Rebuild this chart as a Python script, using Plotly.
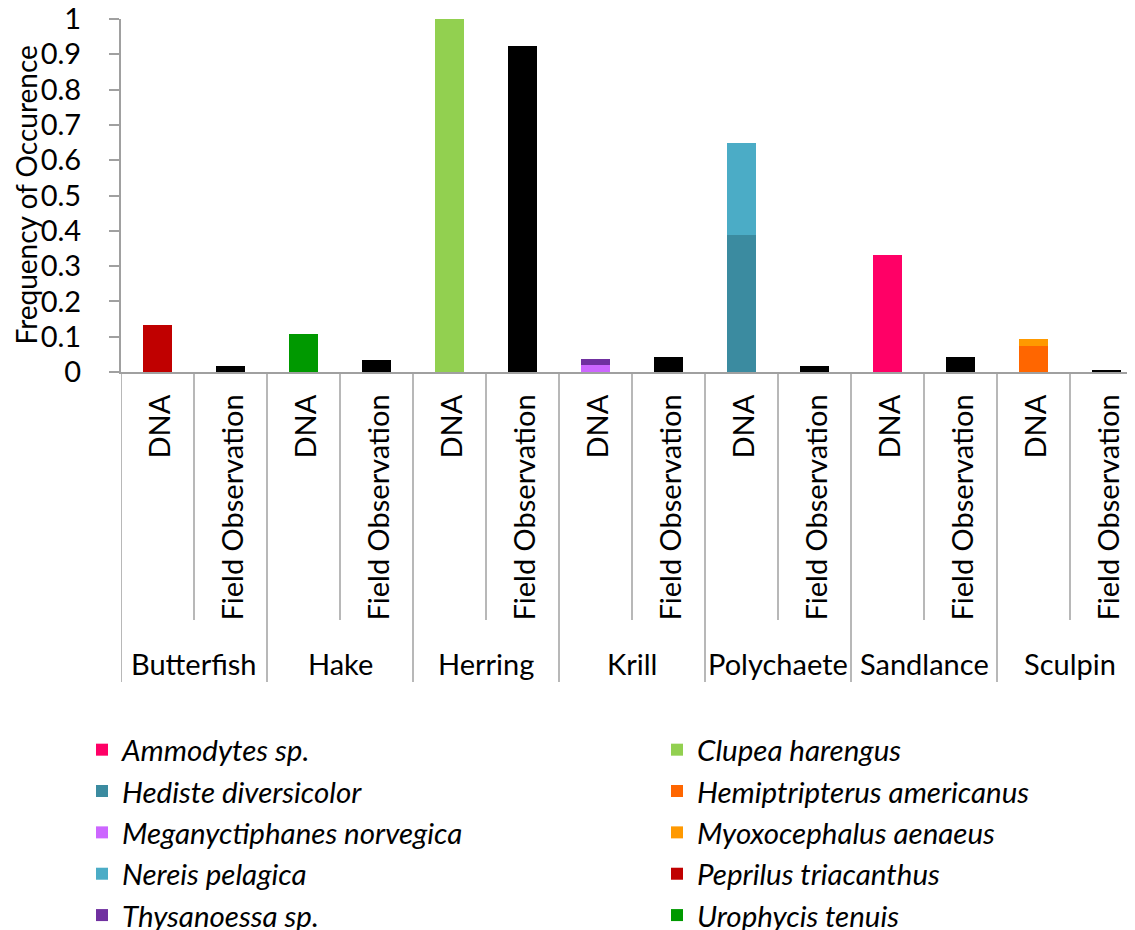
import plotly.graph_objects as go

# ---------------- data ----------------
groups = ["Butterfish", "Hake", "Herring", "Krill", "Polychaete", "Sandlance", "Sculpin"]
methods = ["DNA", "Field Observation"]
field_obs = [0.018, 0.035, 0.923, 0.042, 0.018, 0.042, 0.006]

species = ["Ammodytes sp.", "Hediste diversicolor", "Meganyctiphanes norvegica",
           "Nereis pelagica", "Thysanoessa sp.",
           "Clupea harengus", "Hemiptripterus americanus", "Myoxocephalus aenaeus",
           "Peprilus triacanthus", "Urophycis tenuis"]
species_group = ["Sandlance", "Polychaete", "Krill", "Polychaete", "Krill",
                 "Herring", "Sculpin", "Sculpin", "Butterfish", "Hake"]
species_value = [0.331, 0.387, 0.020, 0.263, 0.016,
                 1.0, 0.075, 0.018, 0.133, 0.109]
species_legend = ["legend", "legend", "legend", "legend", "legend",
                  "legend2", "legend2", "legend2", "legend2", "legend2"]

ytick_vals = [0, 0.1, 0.2, 0.3, 0.4, 0.5, 0.6, 0.7, 0.8, 0.9, 1]
ytick_labels = ["0", "0.1", "0.2", "0.3", "0.4", "0.5", "0.6", "0.7", "0.8", "0.9", "1"]

# ---------------- styles ----------------
colors = ["#FF0066", "#3B8BA0", "#CC66FF", "#4BACC6", "#7030A0",
          "#92D050", "#FF6600", "#FF9900", "#C00000", "#009900"]
FONT = "Lato"
FS = 29
LFS = 29.5
GRAY = "#A0A0A0"
PAD = "\u00a0" * 3

cats = [f"{g}|{m}" for g in groups for m in methods]

fig = go.Figure()
for name, grp, val, col, lg in zip(species, species_group, species_value, colors, species_legend):
    fig.add_trace(go.Bar(
        x=[f"{grp}|DNA"], y=[val], name=f"<i>{name}</i>", marker_color=col,
        marker_line_width=0, width=0.41, legend=lg, legendgroup=name,
    ))
fig.add_trace(go.Bar(
    x=[f"{g}|Field Observation" for g in groups], y=field_obs,
    marker_color="#000000", marker_line_width=0, width=0.41,
    showlegend=False, name="Field Observation",
))

shapes = []
annotations = []
n = len(cats)
# sub-category labels and dividers
for i, c in enumerate(cats):
    g, m = c.split("|")
    annotations.append(dict(
        x=c, xref="x", y=0, yref="paper", yanchor="top", xanchor="center",
        yshift=-21, text=m, textangle=-90, showarrow=False,
        font=dict(family=FONT, size=FS, color="black"),
    ))
for gi, g in enumerate(groups):
    left = gi * 2 - 0.5
    shapes.append(dict(type="line", xref="x", yref="paper", ysizemode="pixel",
                       yanchor=0, x0=left, x1=left, y0=0, y1=-310,
                       line=dict(color=GRAY, width=1.5)))
    shapes.append(dict(type="line", xref="x", yref="paper", ysizemode="pixel",
                       yanchor=0, x0=left + 1, x1=left + 1, y0=0, y1=-248,
                       line=dict(color=GRAY, width=1.5)))
    annotations.append(dict(
        x=left + 1, xref="x", y=0, yref="paper", yanchor="middle", xanchor="center",
        yshift=-291, text=g, showarrow=False,
        font=dict(family=FONT, size=FS, color="black"),
    ))
shapes.append(dict(type="line", xref="x", yref="paper", ysizemode="pixel",
                   yanchor=0, x0=n - 0.5, x1=n - 0.5, y0=0, y1=-310,
                   line=dict(color=GRAY, width=1.5)))

# y-axis title
annotations.append(dict(
    x=0, xref="paper", y=0.5, yref="paper", xanchor="center", yanchor="middle",
    xshift=-96, text="Frequency of Occurence", textangle=-90, showarrow=False,
    font=dict(family=FONT, size=28, color="black"),
))

legend_style = dict(
    xref="container", yref="container", xanchor="left", yanchor="top",
    font=dict(family=FONT, size=LFS, color="black"),
    bgcolor="rgba(0,0,0,0)", tracegroupgap=0, itemclick=False,
)

fig.update_layout(
    width=1135, height=930,
    margin=dict(l=113, r=0, t=11, b=566, autoexpand=False),
    paper_bgcolor="white", plot_bgcolor="white",
    barmode="stack",
    font=dict(family=FONT, size=FS, color="black"),
    xaxis=dict(
        type="category", categoryorder="array", categoryarray=cats,
        range=[-0.5, 13.5], showticklabels=False, ticks="", automargin=False,
        showline=True, linecolor=GRAY, linewidth=1.5, showgrid=False, zeroline=False,
    ),
    yaxis=dict(
        range=[0, 1], tickvals=ytick_vals,
        ticktext=[t + PAD for t in ytick_labels],
        ticks="outside", ticklen=10, tickcolor=GRAY, tickwidth=1.5, automargin=False,
        showline=True, linecolor=GRAY, linewidth=1.5, showgrid=False, zeroline=False,
        ticklabeloverflow="allow",
        tickfont=dict(family=FONT, size=FS, color="black"),
    ),
    shapes=shapes,
    annotations=annotations,
    legend=dict(x=74 / 1135, y=1 - 716 / 930, **legend_style),
    legend2=dict(x=649 / 1135, y=1 - 716 / 930, **legend_style),
)

fig.write_html("out.html")
